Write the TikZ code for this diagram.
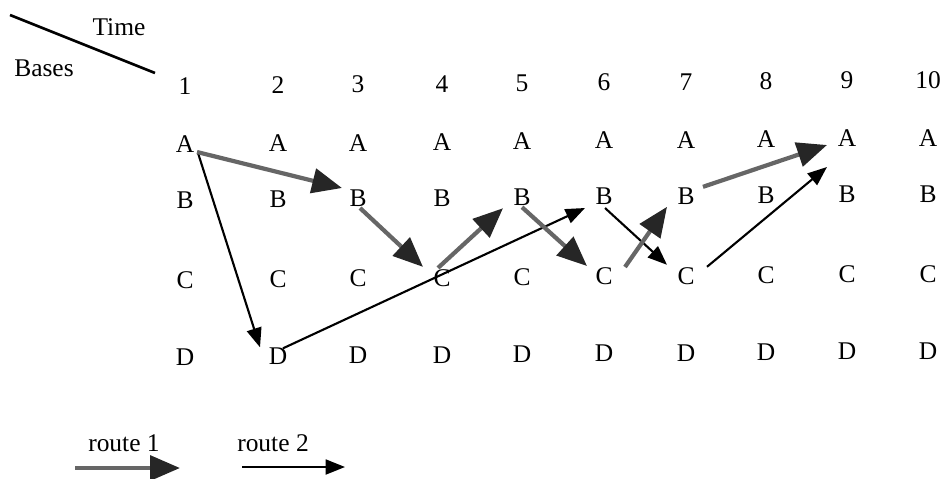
\documentclass[tikz,border=0pt]{standalone}
\usepackage{fontspec}
\setmainfont{Liberation Serif}
\usetikzlibrary{arrows.meta}
\begin{document}
\begin{tikzpicture}[x=0.02cm,y=-0.02cm,
  lab/.style={inner sep=0pt, font=\fontsize{14.5}{17}\selectfont},
  rone/.style={line width=2.4pt, draw=black!60, -{Triangle[length=17pt,width=14pt,fill=black!85,color=black!85]}},
  rtwo/.style={line width=1.2pt, draw=black, -{Triangle[length=11pt,width=8.5pt]}},
  hdr/.style={line width=1.5pt}]
\useasboundingbox (0,0) rectangle (942,478);
% header
\node[lab] (time) at (119,27) {Time};
\node[lab] (bases) at (44,68) {Bases};
\coordinate (h1) at (10,15);
\coordinate (h2) at (155,73);
\draw[hdr] (h1) -- (h2);
% grid
\foreach \c/\x in {1/185,2/278,3/358,4/442,5/522,6/604,7/686,8/766,9/847,10/928} {
  \node[lab] (n\c) at (\x,{86-0.7*(\c-1)}) {\c};
  \node[lab] (A\c) at (\x,{144-0.7*(\c-1)}) {A};
  \node[lab] (B\c) at (\x,{200-0.7*(\c-1)}) {B};
  \node[lab] (C\c) at (\x,{280-0.7*(\c-1)}) {C};
  \node[lab] (D\c) at (\x,{357-0.7*(\c-1)}) {D};
}
% route 2
\draw[rtwo] ([shift={(13,9)}]A1.center) -- ([shift={(-18,-9)}]D2.center);
\draw[rtwo] ([shift={(5,-8)}]D2.center) -- ([shift={(-19,11.5)}]B6.center);
\draw[rtwo] ([shift={(1,11.5)}]B6.center) -- ([shift={(-19,-11)}]C7.center);
\draw[rtwo] ([shift={(21,-9)}]C7.center) -- ([shift={(-20,28.6)}]A9.center);
% route 1
\draw[rone] ([shift={(12,8)}]A1.center) -- ([shift={(-16,-10.6)}]B3.center);
\draw[rone] ([shift={(2,9.4)}]B3.center) -- ([shift={(-19,-11)}]C4.center);
\draw[rone] ([shift={(-4,-10)}]C4.center) -- ([shift={(-19,11)}]B5.center);
\draw[rone] ([shift={(0,10)}]B5.center) -- ([shift={(-17,-10.5)}]C6.center);
\draw[rone] ([shift={(21,-9.5)}]C6.center) -- ([shift={(-19,11)}]B7.center);
\draw[rone] ([shift={(17,-9)}]B7.center) -- ([shift={(-20,6.6)}]A9.center);
% legend
\node[lab] (t1) at (124,443) {route 1};
\node[lab] (t2) at (273,443) {route 2};
\coordinate (l1a) at (75,468);
\coordinate (l1b) at (180,468);
\coordinate (l2a) at (242,467);
\coordinate (l2b) at (345,467);
\draw[rone] (l1a) -- (l1b);
\draw[rtwo] (l2a) -- (l2b);
\end{tikzpicture}
\end{document}
